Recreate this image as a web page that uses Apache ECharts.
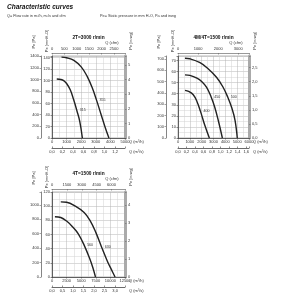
<!DOCTYPE html>
<html><head><meta charset="utf-8">
<script src="https://cdn.jsdelivr.net/npm/echarts@6/dist/echarts.min.js"></script>
<style>html,body{margin:0;padding:0;background:#fff}#c{width:300px;height:300px}</style>
</head><body><div id="c"></div>
<script>
// ---- data: Q in m3/h, Pe in mmH2O ----
// Chart 1: 2T = 3000 r/min
const fan355_3000 = [[650,141],[1000,140],[1500,135.5],[2000,124],[2400,108],[2750,88],[3050,66],[3350,42],[3650,18],[3900,0]];
const fan315_3000 = [[325,103],[600,102],[800,100],[1000,95],[1250,84],[1480,67],[1700,48],[1900,29],[2080,0]];
// Chart 2: 4M/4T = 1500 r/min
const fan500_1500 = [[590,72],[1000,71.5],[1860,68],[2500,63],[3270,54.6],[3800,46],[4200,37],[4550,27],[4820,16],[5010,0]];
const fan450_1500 = [[590,57],[1000,56.5],[1600,54],[2000,51],[2420,45.7],[2800,37],[3100,28],[3400,16],[3750,0]];
const fan400_1500 = [[590,43],[900,42],[1290,39],[1600,33],[1900,24],[2280,11],[2650,0]];
// Chart 3: 4T = 1500 r/min
const fan630_1500 = [[1500,106],[2500,105.5],[4000,100],[5500,91],[6500,80],[7500,63],[8500,42],[9500,22],[10200,10],[10800,0]];
const fan560_1500 = [[500,85],[1500,84],[2500,79],[3500,71],[4500,61],[5500,45],[6500,25],[7000,13],[7450,0]];

const chartTitles = ['2T=3000 r/min','4M/4T=1500 r/min','4T=1500 r/min'];
const qMax   = [5000, 6000, 12500];
const qStep  = [1000, 1000, 2500];
const cfmStep= [500, 1000, 1500];
const m3sStep= [0.2, 0.2, 0.5];
const peMax  = [143, 74, 120];
const peStep = [20, 10, 20];
const paStep = [200, 100, 200];
const inStep = [1, 0.5, 1];
const curves = [
  [{name:'355', data:fan355_3000, li:6}, {name:'315', data:fan315_3000, li:6}],
  [{name:'500', data:fan500_1500, li:6}, {name:'450', data:fan450_1500, li:5}, {name:'400', data:fan400_1500, li:4}],
  [{name:'630', data:fan630_1500, li:6}, {name:'560', data:fan560_1500, li:5}]
];

// ---- layout ----
const L = [
  {left:52, top:56, width:73, height:82, paOff:11},
  {left:178, top:56, width:71, height:82, paOff:12},
  {left:52, top:192, width:73, height:85, paOff:11}
];
const FF = 'Liberation Sans';
const FS = 4;
const onStep = (v, step) => Math.abs(v/step - Math.round(v/step)) < 1e-6;
const fmt = (step, dec) => v => onStep(v, step) ? (dec ? v.toFixed(1).replace('.', ',') : String(Math.round(v))) : '';

const grids=[], xAxes=[], yAxes=[], series=[], graphics=[];
const lab = (extra) => Object.assign({fontSize:FS, fontFamily:FF, color:'#333'}, extra||{});
L.forEach((g,i)=>{
  grids.push({left:g.left, top:g.top, width:g.width, height:g.height, show:true, borderColor:'#888', borderWidth:0.6, backgroundColor:'#fff', containLabel:false});
  // m3/h bottom
  xAxes.push({type:'value', gridIndex:i, position:'bottom', min:0, max:qMax[i], interval:qStep[i],
    axisLine:{show:true, onZero:false, lineStyle:{color:'#444', width:0.8}},
    axisTick:{show:true, length:1.5, lineStyle:{color:'#444', width:0.6}},
    axisLabel:lab({margin:2, formatter:fmt(qStep[i], false)}),
    splitLine:{show:true, lineStyle:{color:'#b5b5b5', width:0.5}},
    minorTick:{show:false, splitNumber:2},
    minorSplitLine:{show:true, lineStyle:{color:'#d2d2d2', width:0.5}}});
  // cfm top
  xAxes.push({type:'value', gridIndex:i, position:'top', offset:3, min:0, max:qMax[i]/1.699, interval:cfmStep[i],
    axisLine:{show:true, onZero:false, lineStyle:{color:'#999', width:1.2}},
    axisTick:{show:true, length:1.5, inside:true, lineStyle:{color:'#666', width:0.6}},
    axisLabel:lab({margin:2, formatter:fmt(cfmStep[i], false)}),
    splitLine:{show:false}});
  // m3/s bottom
  xAxes.push({type:'value', gridIndex:i, position:'bottom', offset:10, min:0, max:qMax[i]/3600, interval:m3sStep[i],
    axisLine:{show:true, onZero:false, lineStyle:{color:'#444', width:0.8}},
    axisTick:{show:true, length:1.5, inside:true, lineStyle:{color:'#444', width:0.6}},
    axisLabel:lab({margin:2, formatter:fmt(m3sStep[i], true)}),
    splitLine:{show:false}});
  // mmH2O left
  yAxes.push({type:'value', gridIndex:i, position:'left', min:0, max:peMax[i], interval:peStep[i],
    axisLine:{show:true, onZero:false, lineStyle:{color:'#444', width:0.8}},
    axisTick:{show:true, length:1.5, lineStyle:{color:'#444', width:0.6}},
    axisLabel:lab({margin:2, formatter:fmt(peStep[i], false)}),
    splitLine:{show:true, lineStyle:{color:'#b5b5b5', width:0.5}},
    minorTick:{show:false, splitNumber:2},
    minorSplitLine:{show:true, lineStyle:{color:'#d2d2d2', width:0.5}}});
  // Pa left (offset)
  yAxes.push({type:'value', gridIndex:i, position:'left', offset:g.paOff, min:0, max:peMax[i]*9.81, interval:paStep[i],
    axisLine:{show:true, onZero:false, lineStyle:{color:'#666', width:0.8}},
    axisTick:{show:true, length:1.5, lineStyle:{color:'#666', width:0.6}},
    axisLabel:lab({margin:2, formatter:fmt(paStep[i], false)}),
    splitLine:{show:false}});
  // in wg right
  yAxes.push({type:'value', gridIndex:i, position:'right', min:0, max:peMax[i]/25.4, interval:inStep[i],
    axisLine:{show:true, onZero:false, lineStyle:{color:'#aaa', width:3}},
    axisTick:{show:true, length:1.5, lineStyle:{color:'#666', width:0.6}},
    axisLabel:lab({margin:3, formatter:fmt(inStep[i], inStep[i] < 1)}),
    splitLine:{show:false}});
  curves[i].forEach(c=>{
    series.push({type:'line', xAxisIndex:3*i, yAxisIndex:3*i, smooth:0.4, symbol:'circle', symbolSize:0.01,
      showAllSymbol:true, silent:true, animation:false,
      itemStyle:{color:'rgba(0,0,0,0)'},
      lineStyle:{color:'#222', width:1.4},
      label:{show:false},
      data:c.data.map((p,k)=>k===c.li?{value:p, label:{show:true, formatter:c.name, position:'right', distance:3, fontSize:3.6, fontFamily:FF, color:'#333'}}:p)});
  });
  // titles & axis names
  const cx = g.left + g.width/2;
  const t = (txt, x, y, o) => graphics.push(Object.assign({type:'text', x, y, style:Object.assign({text:txt, fontSize:FS, fontFamily:FF, fill:'#333', align:'center', verticalAlign:'middle'}, (o&&o.style)||{})}, o&&o.rot?{rotation:Math.PI/2}:{}));
  t(chartTitles[i], cx, g.top-18, {style:{fontWeight:'bold', fontSize:4.8, fill:'#111'}});
  t('Pe [Pa]', g.left-g.paOff-7, g.top-14, {rot:true});
  t('Pe [mmH\u2082O]', g.left-5, g.top-15, {rot:true});
  t('Pe [in wg]', g.left+g.width+6, g.top-15, {rot:true});
  t('Q (cfm)', g.left+g.width-13, g.top-13, {});
  t('Q (m\u00b3/h)', g.left+g.width+4, g.top+g.height+4, {style:{align:'left'}});
  t('Q (m\u00b3/s)', g.left+g.width+4, g.top+g.height+14, {style:{align:'left'}});
});
graphics.push({type:'text', x:7, y:7, style:{text:'Characteristic curves', fontSize:6.5, fontWeight:'bold', fontStyle:'italic', fontFamily:FF, fill:'#111', verticalAlign:'middle'}});
graphics.push({type:'text', x:7, y:16, style:{text:'Q= Flow rate in m\u00b3/h, m\u00b3/s and cfm', fontSize:3.8, fontFamily:FF, fill:'#333', verticalAlign:'middle'}});
graphics.push({type:'text', x:100, y:16, style:{text:'Pe= Static pressure in mm H\u2082O, Pa and inwg', fontSize:3.8, fontFamily:FF, fill:'#333', verticalAlign:'middle'}});

const chart = echarts.init(document.getElementById('c'), null, {renderer:'canvas'});
chart.setOption({animation:false, backgroundColor:'#fff', grid:grids, xAxis:xAxes, yAxis:yAxes, series, graphic:graphics});
</script></body></html>
